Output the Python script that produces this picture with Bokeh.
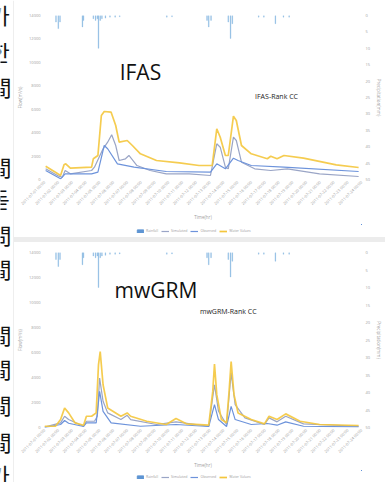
import math
from bokeh.plotting import figure
from bokeh.models import (Range1d, LinearAxis, FixedTicker, Legend, LegendItem,
                          Label, ColumnDataSource, Span, Div)
from bokeh.layouts import row, column
from bokeh.embed import file_html
from bokeh.resources import INLINE
from bokeh.core.properties import value

# ---------------- data ----------------
tick_hours = [0, 24, 48, 72, 96, 120, 144, 168, 192, 216, 240, 264, 288, 312,
              336, 360, 384, 408, 432, 456, 480, 504, 528, 552]
tick_labels = ["2011-07-01 00:00", "2011-07-02 00:00", "2011-07-03 00:00", "2011-07-04 00:00",
               "2011-07-05 00:00", "2011-07-06 00:00", "2011-07-07 00:00", "2011-07-08 00:00",
               "2011-07-09 00:00", "2011-07-10 00:00", "2011-07-11 00:00", "2011-07-12 00:00",
               "2011-07-13 00:00", "2011-07-14 00:00", "2011-07-15 00:00", "2011-07-16 00:00",
               "2011-07-17 00:00", "2011-07-18 00:00", "2011-07-19 00:00", "2011-07-20 00:00",
               "2011-07-21 00:00", "2011-07-22 00:00", "2011-07-23 00:00", "2011-07-24 00:00"]
flow_ticks = [0, 2000, 4000, 6000, 8000, 10000, 12000, 14000]
rain_ticks = [0, 5, 10, 15, 20, 25, 30, 35, 40, 45, 50]

rain_hours = [20, 24, 27, 66, 68, 85, 89, 92, 94, 97, 100, 106, 114, 123, 131,
              213, 222, 283, 286, 290, 320, 324, 327, 373, 382, 402, 416, 426]
rain_mm = [2.0, 4.0, 2.0, 3.5, 1.5, 1.0, 1.5, 1.0, 10.0, 1.5, 1.0, 0.8, 0.5, 0.5, 0.4,
           0.5, 0.4, 1.5, 3.5, 1.5, 2.0, 7.0, 2.5, 0.5, 0.5, 2.5, 0.5, 0.5]

# IFAS
ifas_upper_t = [2, 19, 28, 34, 37, 45, 82, 85, 93, 99, 104, 116, 124, 130, 144, 153, 167, 195,
                235, 269, 292, 300, 306, 315, 320, 329, 334, 343, 360, 388, 394, 405, 417, 451,
                508, 547]
ifas_upper_q = [1135, 623, 341, 1255, 1340, 965, 1050, 1767, 2049, 5464, 5805, 5745, 4610, 3184,
                3329, 2903, 2194, 1622, 1426, 1195, 1195, 4328, 3611, 2049, 2049, 5404, 5037,
                2903, 2194, 1767, 1989, 1767, 2049, 1818, 1255, 1024]
ifas_sim_t = [2, 25, 31, 36, 45, 82, 87, 102, 110, 117, 124, 130, 141, 147, 161, 184, 212, 252,
              289, 300, 306, 315, 320, 329, 334, 343, 366, 394, 423, 479, 547]
ifas_sim_q = [913, 282, 196, 768, 487, 768, 1050, 2621, 3184, 3816, 2903, 1622, 1767, 2049, 1195,
              768, 487, 487, 341, 3048, 2757, 1050, 913, 3611, 3329, 1477, 913, 768, 913, 487, 256]
ifas_obs_t = [2, 28, 36, 82, 93, 104, 110, 127, 156, 212, 289, 300, 315, 329, 337, 360, 417, 547]
ifas_obs_q = [768, 60, 487, 487, 623, 2903, 2621, 1340, 1050, 683, 623, 1340, 913, 1818, 1622,
              1195, 1050, 683]

# mwGRM
grm_upper_t = [0, 19, 28, 35, 42, 53, 68, 73, 82, 90, 94, 97, 102, 110, 133, 144, 150, 178, 212,
               229, 247, 286, 293, 296, 300, 308, 317, 321, 325, 330, 337, 360, 383, 391, 405,
               420, 445, 479, 547]
grm_upper_q = [100, 100, 636, 1567, 1169, 374, 183, 899, 899, 1169, 5012, 6070, 3421, 1567, 899,
               1169, 899, 501, 239, 716, 294, 183, 2888, 5067, 2625, 636, 374, 2625, 5274, 2625,
               1169, 636, 294, 899, 636, 1090, 501, 239, 159]
grm_sim_t = [0, 28, 35, 42, 68, 73, 87, 92, 96, 102, 110, 133, 144, 150, 195, 229, 286, 296, 303,
             317, 325, 332, 349, 383, 391, 405, 420, 451, 547]
grm_sim_q = [24, 374, 899, 636, 100, 501, 501, 899, 3953, 2093, 1169, 636, 979, 636, 239, 453,
             100, 3421, 1297, 239, 4351, 1830, 772, 239, 772, 453, 899, 294, 100]
grm_obs_t = [0, 28, 35, 42, 68, 73, 90, 96, 102, 116, 167, 229, 286, 296, 303, 317, 325, 332,
             360, 388, 405, 420, 451, 547]
grm_obs_q = [0, 239, 557, 342, 80, 374, 374, 2888, 1297, 374, 100, 239, 80, 1830, 636, 80, 1694,
             636, 239, 318, 183, 453, 100, 56]

legend_labels = ["Rainfall", "Simulated", "Observed", "Water Values"]
side_chars = ["가", "한", "間", "間", "돋", "問", "間", "·", "間", "間", "間", "間", "가"]

# ---------------- styling ----------------
C_RAIN = "#86B6E2"
C_RAIN_KEY = "#5E95D3"
C_SIM = "#9AA5C6"
C_OBS = "#6D93DB"
C_UP = "#F4C63D"
TXT = "#a0a0a0"
FONT = "Open Sans"


def style_axis(ax):
    ax.axis_line_color = None
    ax.major_tick_line_color = None
    ax.minor_tick_line_color = None
    ax.major_tick_out = 0
    ax.major_tick_in = 0
    ax.minor_tick_out = 0
    ax.minor_tick_in = 0
    ax.major_label_text_font_size = "4px"
    ax.major_label_text_color = TXT
    ax.major_label_text_font = FONT
    ax.axis_label_text_font_size = "4.5px"
    ax.axis_label_text_color = TXT
    ax.axis_label_text_font_style = "normal"
    ax.axis_label_text_font = FONT
    ax.major_label_standoff = 4
    ax.axis_label_standoff = 3


def make_chart(h, mt, mb, up_t, up_q, sim_t, sim_q, obs_t, obs_q, title, sub, title_pos, sub_pos):
    p = figure(width=371, height=h, x_range=Range1d(0, 552), y_range=Range1d(0, 14000),
               output_backend="svg", toolbar_location=None,
               min_border_left=24, min_border_right=23, min_border_top=mt, min_border_bottom=mb,
               background_fill_color="white", border_fill_color="white",
               outline_line_color=None)
    p.title_location = None
    p.grid.visible = False
    p.extra_y_ranges = {"rain": Range1d(start=50, end=0)}

    style_axis(p.yaxis[0])
    p.yaxis[0].ticker = FixedTicker(ticks=flow_ticks)
    p.yaxis[0].axis_label = "Flow(m³/s)"

    xa = p.xaxis[0]
    style_axis(xa)
    xa.ticker = FixedTicker(ticks=tick_hours)
    xa.major_label_overrides = {t: l for t, l in zip(tick_hours, tick_labels)}
    xa.major_label_orientation = math.pi / 4
    xa.axis_label = "Time(hr)"
    xa.major_label_standoff = 2

    ra = LinearAxis(y_range_name="rain", ticker=FixedTicker(ticks=rain_ticks),
                    axis_label="Precipitation(mm)")
    style_axis(ra)
    p.add_layout(ra, "right")

    rsrc = ColumnDataSource(dict(t=rain_hours, r=rain_mm))
    p.vbar(x="t", top="r", bottom=0, width=1.3, source=rsrc, y_range_name="rain",
           fill_color=C_RAIN, line_color=C_RAIN, line_width=0.3)
    p.line(sim_t, sim_q, line_color=C_SIM, line_width=1.2)
    p.line(obs_t, obs_q, line_color=C_OBS, line_width=1.2)
    p.line(up_t, up_q, line_color=C_UP, line_width=1.7, line_alpha=0.9)

    p.add_layout(Label(x=title_pos[0], y=title_pos[1], text=title, text_font_size="21px",
                       text_font=FONT, text_align="center", text_baseline="middle",
                       text_color="#111111"))
    p.add_layout(Label(x=sub_pos[0], y=sub_pos[1], text=sub, text_font_size="7px",
                       text_font=FONT, text_align="center", text_baseline="middle",
                       text_color="#222222"))
    return p


def make_legend(h, lx, ly, up_t, up_q, sim_t, sim_q, obs_t, obs_q):
    # a strip holding the chart's legend; the series are drawn out of view (ranges are
    # negative, all data are >= 0) so only their legend swatches show.
    lf = figure(width=371, height=h, x_range=Range1d(-20, -10), y_range=Range1d(-20, -10),
                output_backend="svg", toolbar_location=None, min_border=0,
                x_axis_location=None, y_axis_location=None,
                background_fill_color="white", border_fill_color="white",
                outline_line_color=None)
    lf.title_location = None
    lf.grid.visible = False
    k_rain = lf.vbar(x=rain_hours, top=rain_mm, width=1, fill_color=C_RAIN_KEY,
                     line_color=C_RAIN_KEY)
    k_sim = lf.line(sim_t, sim_q, line_color=C_SIM, line_width=1.2)
    k_obs = lf.line(obs_t, obs_q, line_color=C_OBS, line_width=1.2)
    k_up = lf.line(up_t, up_q, line_color=C_UP, line_width=1.7)
    items = [LegendItem(label=legend_labels[0], renderers=[k_rain]),
             LegendItem(label=legend_labels[1], renderers=[k_sim]),
             LegendItem(label=legend_labels[2], renderers=[k_obs]),
             LegendItem(label=legend_labels[3], renderers=[k_up])]
    legend = Legend(items=items, orientation="horizontal", location=(lx, ly),
                    label_text_font_size="3.5px", label_text_color=TXT, label_text_font=FONT,
                    glyph_width=8, glyph_height=4, label_standoff=2, spacing=3,
                    label_width=0, label_height=5, padding=0, margin=0,
                    border_line_color=None, background_fill_alpha=0)
    lf.add_layout(legend, "center")
    return lf


top = make_chart(224, 15, 45, ifas_upper_t, ifas_upper_q, ifas_sim_t, ifas_sim_q,
                 ifas_obs_t, ifas_obs_q, "IFAS", "IFAS-Rank CC", (167, 9135), (404, 7086))
top_leg = make_legend(13, 92, 4, ifas_upper_t, ifas_upper_q, ifas_sim_t, ifas_sim_q,
                      ifas_obs_t, ifas_obs_q)
bottom = make_chart(228, 10, 42, grm_upper_t, grm_upper_q, grm_sim_t, grm_sim_q,
                    grm_obs_t, grm_obs_q, "mwGRM", "mwGRM-Rank CC", (194, 10980), (320, 9300))
bottom_leg = make_legend(12, 92, 3, grm_upper_t, grm_upper_q, grm_sim_t, grm_sim_q,
                         grm_obs_t, grm_obs_q)

sep = Div(width=371, height=5, margin=0, styles={"background-color": "#ececec"})

# left strip of cut-off Korean document text
strip = figure(width=14, height=482, x_range=Range1d(0, 14), y_range=Range1d(482, 0),
               output_backend="svg", toolbar_location=None, min_border=0,
               background_fill_color="white", border_fill_color="white",
               outline_line_color=None)
strip.title_location = None
strip.axis.visible = False
strip.grid.visible = False
char_y = [13, 50, 85, 165, 197, 233, 267, 300, 333, 367, 403, 440, 473]
strip.text(x=[-11] * len(side_chars), y=char_y, text=side_chars,
           text_font=value("Noto Sans CJK KR"), text_font_size="22px",
           text_align="left", text_baseline="middle", text_color="#111111")
strip.add_layout(Span(location=13.5, dimension="height", line_color="#dddddd", line_width=1))

layout = row(strip, column(top, top_leg, sep, bottom, bottom_leg, spacing=0), spacing=0)

open("out.html", "w").write(file_html(layout, INLINE))
